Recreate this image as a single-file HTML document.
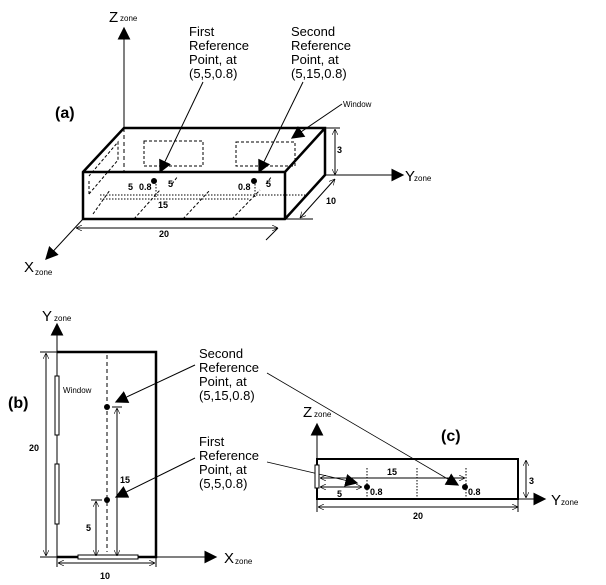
<!DOCTYPE html>
<html><head><meta charset="utf-8"><style>
body{margin:0;background:#fff}
svg{display:block;font-family:"Liberation Sans",Arial,sans-serif}
</style></head><body>
<svg width="606" height="585" viewBox="0 0 606 585" xmlns="http://www.w3.org/2000/svg">
<defs>
<marker id="ar" viewBox="0 0 10 10" refX="9" refY="5" markerWidth="9" markerHeight="9" orient="auto-start-reverse" markerUnits="userSpaceOnUse"><path d="M0,0L10,5L0,10z" fill="#000"/></marker>
<marker id="ar2" viewBox="0 0 10 10" refX="9" refY="5" markerWidth="13" markerHeight="13" orient="auto" markerUnits="userSpaceOnUse"><path d="M0,0L10,5L0,10z" fill="#000"/></marker>
<marker id="op" viewBox="0 0 10 10" refX="10" refY="5" markerWidth="6" markerHeight="6" orient="auto-start-reverse" markerUnits="userSpaceOnUse"><path d="M0,0L10,5L0,10" fill="none" stroke="#000" stroke-width="1"/></marker>
</defs>
<g stroke="#000" fill="none">
<!-- (a) -->
<line x1="124" y1="128" x2="124" y2="28" stroke-width="1" marker-end="url(#ar2)"/>
<line x1="124" y1="128" x2="124" y2="172" stroke-dasharray="4,3"/>
<path d="M83,172 L124,128 L325,128 L325,175 L285,219 L83,219 Z M83,172 L285,172 L325,128 M285,172 L285,219" stroke-width="2.5"/>
<line x1="325" y1="175" x2="403" y2="175" marker-end="url(#ar2)"/>
<line x1="83" y1="219" x2="46" y2="259" marker-end="url(#ar2)"/>
<g stroke-dasharray="3,2" stroke-width="1">
<rect x="144" y="141" width="59" height="25"/>
<rect x="236" y="142" width="59" height="24"/>
<path d="M89,194 L89,180 M89,194 L118,160 L118,142 L89,176"/>
<line x1="93" y1="214" x2="110" y2="190"/>
<line x1="134" y1="219" x2="160" y2="190"/>
<line x1="183" y1="219" x2="210" y2="190"/>
<line x1="232" y1="219" x2="260" y2="190"/>
<line x1="172" y1="184" x2="178" y2="176"/>
<line x1="266" y1="184" x2="272" y2="176"/>
</g>
<g stroke-dasharray="1.5,1.5">
<line x1="100" y1="199" x2="250" y2="199"/>
<line x1="156" y1="184" x2="156" y2="197"/>
<line x1="255" y1="184" x2="255" y2="197"/>
<line x1="100" y1="195" x2="305" y2="195"/>
</g>
<line x1="76" y1="228" x2="278" y2="228" marker-start="url(#op)" marker-end="url(#op)"/>
<line x1="278" y1="228" x2="266" y2="240"/>
<line x1="300" y1="218" x2="335" y2="179" marker-start="url(#op)" marker-end="url(#op)"/>
<line x1="286" y1="219" x2="313" y2="219"/>
<line x1="335" y1="129" x2="335" y2="175" marker-start="url(#op)" marker-end="url(#op)"/>
<line x1="326" y1="128" x2="340" y2="128"/>
<line x1="203" y1="82" x2="160" y2="172" marker-end="url(#ar2)"/>
<line x1="303" y1="82" x2="259" y2="172" marker-end="url(#ar2)"/>
<line x1="342" y1="104" x2="292" y2="138" marker-end="url(#ar2)"/>
<!-- (b) -->
<line x1="57" y1="557" x2="57" y2="324" marker-end="url(#ar2)"/>
<path d="M57,352 L156,352 L156,557 L57,557" stroke-width="2.5"/>
<line x1="156" y1="557" x2="216" y2="557" marker-end="url(#ar2)"/>
<rect x="55" y="376" width="4" height="59" fill="#fff"/>
<rect x="55" y="464" width="4" height="60" fill="#fff"/>
<rect x="78" y="555" width="60" height="4" fill="#fff"/>
<line x1="46" y1="353" x2="46" y2="556" marker-start="url(#op)" marker-end="url(#op)"/>
<line x1="40" y1="352" x2="57" y2="352"/><line x1="40" y1="557" x2="57" y2="557"/>
<line x1="58" y1="563" x2="155" y2="563" marker-start="url(#op)" marker-end="url(#op)"/>
<line x1="57" y1="557" x2="57" y2="567"/><line x1="156" y1="557" x2="156" y2="567"/>
<line x1="107" y1="355" x2="107" y2="552" stroke-dasharray="4,3"/>
<line x1="96" y1="501" x2="96" y2="556" marker-start="url(#op)" marker-end="url(#op)"/>
<line x1="91" y1="500" x2="102" y2="500"/>
<line x1="117" y1="408" x2="117" y2="556" marker-start="url(#op)" marker-end="url(#op)"/>
<line x1="112" y1="407" x2="122" y2="407"/>
<line x1="195" y1="365" x2="116" y2="402" marker-end="url(#ar2)"/>
<line x1="195" y1="458" x2="116" y2="497" marker-end="url(#ar2)"/>
<line x1="267" y1="373" x2="458" y2="485" stroke-width="0.8" marker-end="url(#ar2)"/>
<line x1="267" y1="462" x2="357" y2="483" stroke-width="0.8" marker-end="url(#ar2)"/>
<!-- (c) -->
<line x1="317" y1="459" x2="317" y2="424" marker-end="url(#ar2)"/>
<rect x="317" y="459" width="201" height="40" stroke-width="2"/>
<line x1="518" y1="499" x2="545" y2="499" marker-end="url(#ar2)"/>
<rect x="315" y="465" width="4" height="23" fill="#fff"/>
<g stroke-dasharray="1.5,1.5"><line x1="367" y1="468" x2="367" y2="499"/><line x1="417" y1="468" x2="417" y2="499"/><line x1="466" y1="468" x2="466" y2="499"/></g>
<line x1="320" y1="478" x2="465" y2="478" marker-start="url(#op)" marker-end="url(#op)"/>
<line x1="320" y1="487" x2="362" y2="487" marker-start="url(#op)" marker-end="url(#op)"/>
<line x1="318" y1="507" x2="518" y2="507" marker-start="url(#op)" marker-end="url(#op)"/>
<line x1="317" y1="500" x2="317" y2="512"/><line x1="518" y1="500" x2="518" y2="512"/>
<line x1="526" y1="460" x2="526" y2="498" marker-start="url(#op)" marker-end="url(#op)"/>
</g>
<g fill="#000">
<circle cx="154" cy="181" r="3"/><circle cx="254" cy="181" r="3"/>
<circle cx="107" cy="407" r="3"/><circle cx="107" cy="500" r="3"/>
<circle cx="367" cy="487" r="3"/><circle cx="465" cy="487" r="3"/>
</g>
<g font-size="13" fill="#000">
<text x="189" y="36">First</text><text x="189" y="50">Reference</text><text x="189" y="64">Point, at</text><text x="189" y="78">(5,5,0.8)</text>
<text x="291" y="36">Second</text><text x="291" y="50">Reference</text><text x="291" y="64">Point, at</text><text x="291" y="78">(5,15,0.8)</text>
<text x="199" y="358">Second</text><text x="199" y="372">Reference</text><text x="199" y="386">Point, at</text><text x="199" y="400">(5,15,0.8)</text>
<text x="199" y="446">First</text><text x="199" y="460">Reference</text><text x="199" y="474">Point, at</text><text x="199" y="488">(5,5,0.8)</text>
</g>
<g font-size="16" font-weight="bold"><text x="55" y="118">(a)</text><text x="8" y="408">(b)</text><text x="441" y="441">(c)</text></g>
<g font-size="15">
<text x="109" y="22">Z</text><text x="405" y="181">Y</text><text x="24" y="272">X</text>
<text x="42" y="321">Y</text><text x="224" y="563">X</text>
<text x="303" y="417">Z</text><text x="551" y="505">Y</text>
</g>
<g font-size="8">
<text x="120" y="21">zone</text><text x="414" y="181">zone</text><text x="35" y="275">zone</text>
<text x="54" y="321">zone</text><text x="235" y="564">zone</text>
<text x="314" y="417">zone</text><text x="561" y="505">zone</text>
<text x="343" y="107">Window</text><text x="63" y="393">Window</text>
</g>
<g font-size="9" font-weight="bold">
<text x="128" y="190">5</text><text x="139" y="190">0.8</text><text x="168" y="187">5</text>
<text x="238" y="190">0.8</text><text x="266" y="187">5</text>
<text x="158" y="208">15</text><text x="159" y="237">20</text><text x="326" y="204">10</text><text x="337" y="153">3</text>
<text x="29" y="451">20</text><text x="100" y="579">10</text><text x="120" y="483">15</text><text x="86" y="531">5</text>
<text x="387" y="475">15</text><text x="337" y="497">5</text><text x="370" y="495">0.8</text><text x="468" y="495">0.8</text>
<text x="413" y="519">20</text><text x="529" y="484">3</text>
</g>
</svg>
</body></html>
